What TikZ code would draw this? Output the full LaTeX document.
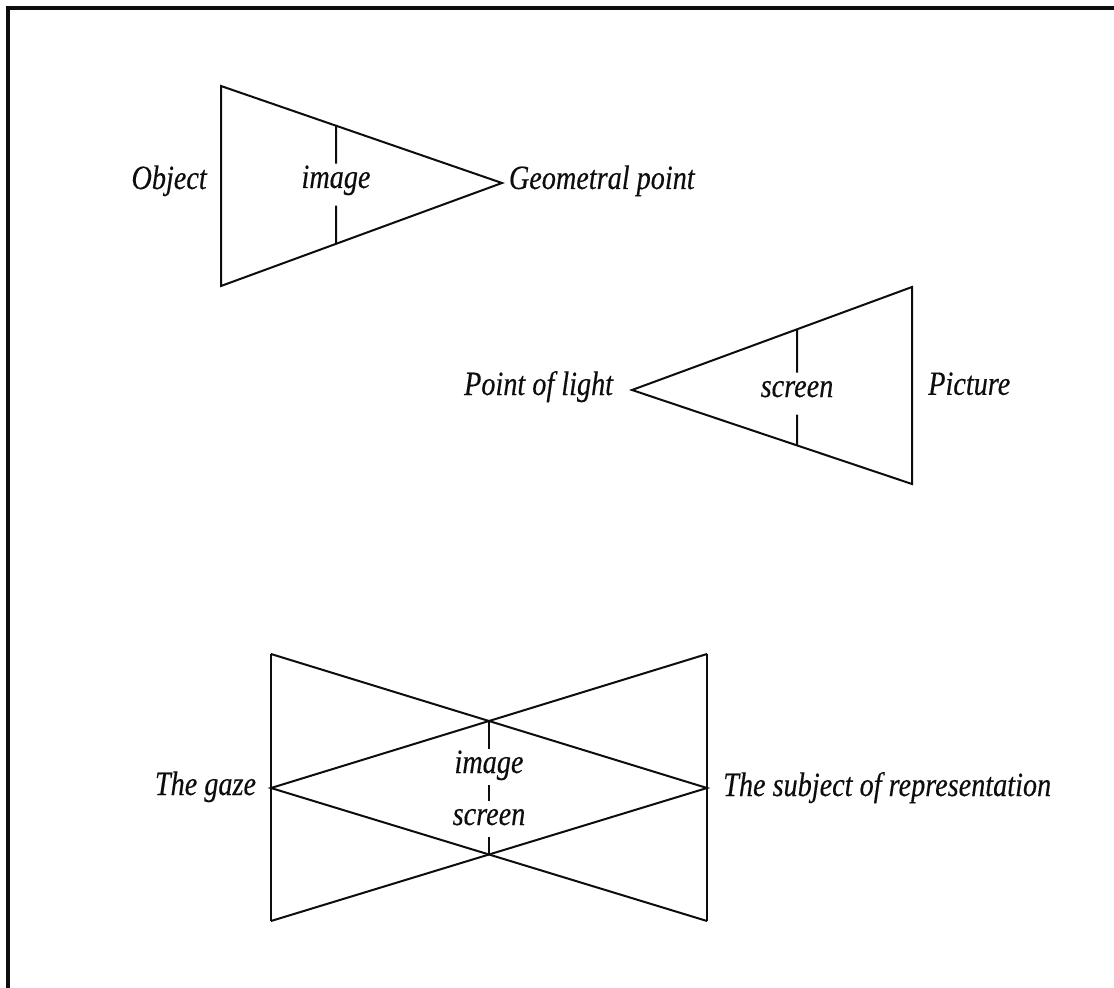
\documentclass[tikz,border=0pt]{standalone}
\usepackage{fontspec}
\setmainfont{Liberation Serif}[FakeStretch=0.83, FakeBold=0.3]
\usepackage{tikz}
\usetikzlibrary{positioning,calc}
\definecolor{inkDark}{gray}{0.05}

\begin{document}
\begin{tikzpicture}[x=0.75pt, y=-0.75pt,
      edge/.style={draw=inkDark, line width=1.5pt, line join=miter},
      lbl/.style={inner sep=0pt, text=inkDark,
                  font=\fontsize{25.5}{30}\selectfont\itshape},
      gap/.style={lbl, anchor=base, text height=18pt, text depth=13pt},
      gapS/.style={gap, text depth=9pt}]

    \useasboundingbox (0,0) rectangle (1114,988);
    \draw[inkDark, line width=3.2pt] (8,988) -- (8,8) -- (1114,8);

    % object / image / geometral point
    \coordinate (obj-t) at (221,86);
    \coordinate (obj-b) at (221,286);
    \coordinate (obj-m) at ($(obj-t)!0.5!(obj-b)$);
    \coordinate (geo) at (502,183);
    \coordinate (d1t) at ($(obj-t)!0.41!(geo)$);
    \coordinate (d1b) at ($(obj-b)!0.41!(geo)$);
    \draw[edge] (obj-t) -- (geo) -- (obj-b) -- cycle;

    \node[gap] (img1) at (336,188) {image};
    \node[lbl, left=10.5pt of obj-m, anchor=base east, yshift=-2.25pt] (object) {Object};
    \node[lbl, right=5pt of geo, anchor=base west, yshift=-4.5pt] (geometral) {Geometral point};
    \draw[edge] (d1t) -- (img1);
    \draw[edge] (img1) -- (d1b);

    % point of light / screen / picture
    \coordinate (light) at (632,390);
    \coordinate (pic-t) at (912,287);
    \coordinate (pic-b) at (912,484);
    \coordinate (pic-m) at ($(pic-t)!0.5!(pic-b)$);
    \coordinate (d2t) at ($(light)!0.59!(pic-t)$);
    \coordinate (d2b) at ($(light)!0.59!(pic-b)$);
    \draw[edge] (light) -- (pic-t) -- (pic-b) -- cycle;

    \node[gap] (scr1) at (797,397) {screen};
    \node[lbl, left=14pt of light, anchor=base east, yshift=-3.75pt] (pointlight) {Point of light};
    \node[lbl, right=12pt of pic-m, anchor=base west, yshift=-7pt] (picture) {Picture};
    \draw[edge] (d2t) -- (scr1);
    \draw[edge] (scr1) -- (d2b);

    % the gaze / image-screen / subject of representation
    \coordinate (gz-t) at (271,654);
    \coordinate (gz-b) at (271,921);
    \coordinate (gaze) at (271,788);
    \coordinate (sb-t) at (707,654);
    \coordinate (sb-b) at (707,921);
    \coordinate (subj) at (707,788);
    \coordinate (x-t) at ($(gz-t)!0.5!(subj)$);
    \coordinate (x-b) at ($(gz-b)!0.5!(subj)$);
    \draw[edge] (gz-t) -- (gz-b);
    \draw[edge] (sb-t) -- (sb-b);
    \draw[edge] (gz-t) -- (subj) -- (gz-b);
    \draw[edge] (sb-t) -- (gaze) -- (sb-b);

    \node[gapS] (img2) at (489,773) {image};
    \node[gapS] (scr2) at (489,825) {screen};
    \node[lbl, left=11pt of gaze, anchor=base east, yshift=-5.25pt] (thegaze) {The gaze};
    \node[lbl, right=12pt of subj, anchor=base west, yshift=-6pt] (subject) {The subject of representation};
    \draw[edge] (x-t) -- (img2);
    \draw[edge] (img2) -- (scr2);
    \draw[edge] (scr2) -- (x-b);
  \end{tikzpicture}
\end{document}
